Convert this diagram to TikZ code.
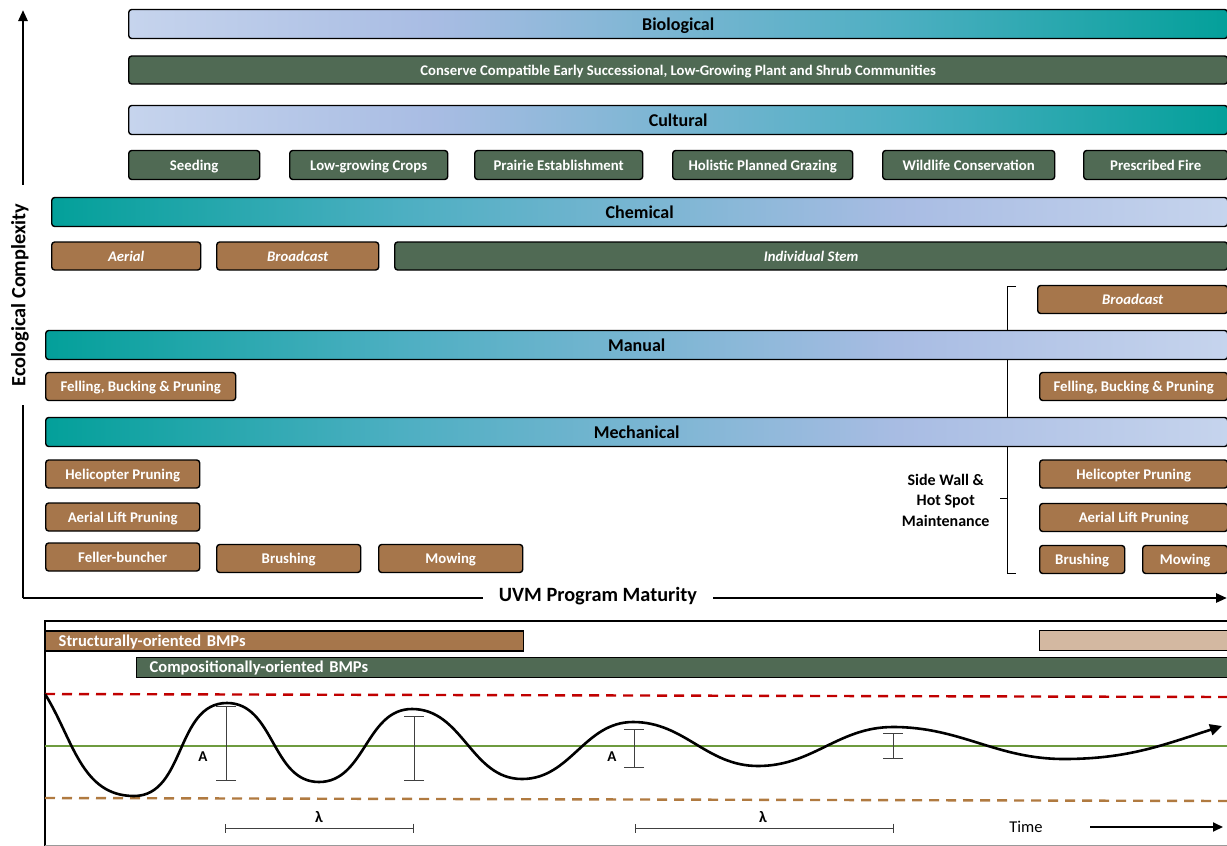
\documentclass[tikz,border=0pt]{standalone}
\usepackage{fontspec}
\setmainfont{Carlito}
\usetikzlibrary{arrows.meta}

\definecolor{sagegreen}{HTML}{506A54}
\definecolor{barkbrown}{HTML}{A6764B}
\definecolor{paletan}{HTML}{D3B8A1}
\definecolor{lavlight}{HTML}{C6D4ED}
\definecolor{lavmid}{HTML}{A8BCE3}
\definecolor{tealmid}{HTML}{4DAFC2}
\definecolor{tealdark}{HTML}{03A09A}
\definecolor{limitred}{HTML}{C00000}
\definecolor{limitbrown}{HTML}{B07A40}
\definecolor{meangreen}{HTML}{6E9B3F}

\pgfdeclarehorizontalshading{lighttoteal}{100bp}{color(0bp)=(lavlight); color(25bp)=(lavlight);
  color(39bp)=(lavmid); color(60bp)=(tealmid); color(75bp)=(tealdark); color(100bp)=(tealdark)}
\pgfdeclarehorizontalshading{tealtolight}{100bp}{color(0bp)=(tealdark); color(25bp)=(tealdark);
  color(40bp)=(tealmid); color(61bp)=(lavmid); color(75bp)=(lavlight); color(100bp)=(lavlight)}

\tikzset{
  itembox/.style={draw=black, line width=1.4pt, rounded corners=3pt, anchor=west, inner sep=0pt,
    minimum height=28pt, text height=10pt, text depth=0pt, text=white,
    font=\fontsize{14.8}{17}\selectfont\bfseries},
  greenbox/.style={itembox, fill=sagegreen},
  brownbox/.style={itembox, fill=barkbrown},
  slantbox/.style={font=\fontsize{14.7}{17}\selectfont\bfseries\itshape},
  tierbar/.style={draw=black, line width=1.4pt, rounded corners=3pt, anchor=west, inner sep=0pt,
    minimum height=29pt, text height=12pt, text depth=0pt, font=\fontsize{18}{21}\selectfont\bfseries},
  bmpbar/.style={draw=black, line width=1.4pt, anchor=west, inner xsep=13pt, inner ysep=0pt,
    minimum height=20pt, text height=10pt, text depth=0pt, align=left, text=white,
    font=\fontsize{16.5}{18}\selectfont\bfseries},
  axis/.style={line width=2.6pt, -{Triangle[length=11pt, width=9pt]}},
  axislabel/.style={fill=white, font=\fontsize{20.3}{23}\selectfont\bfseries},
  ibeam/.style={black!75, line width=0.9pt},
  limit/.style={line width=2.4pt, dash pattern=on 10pt off 7pt}
}

\begin{document}
\begin{tikzpicture}[x=1pt, y=-1pt]
  \useasboundingbox (0,0) rectangle (1227,846);

  % axes
  \coordinate (origin) at (23,598);
  \coordinate (ytop) at (23,10);
  \coordinate (xend) at (1227,598);
  \draw[axis] (origin) -- (ytop);
  \draw[axis] (origin) -- (xend);
  \node[axislabel, rotate=90, inner xsep=19pt] (ecolab) at (20,295) {Ecological Complexity};
  \node[axislabel, inner xsep=16pt] (uvmlab) at (598,596) {UVM Program Maturity};

  % side wall bracket
  \coordinate (brtop) at (1007,286);
  \coordinate (brbot) at (1007,573);
  \coordinate (brmid) at (1007,498);
  \draw[line width=1pt] ([xshift=9pt]brtop) -- (brtop) -- (brbot) -- ([xshift=9pt]brbot);
  \node[font=\fontsize{16}{20.5}\selectfont\bfseries, align=center, anchor=east] (sidewall)
    at (993,500) {Side Wall \&\\ Hot Spot\\ Maintenance};
  \draw[line width=1pt] ([xshift=-7pt]brmid) -- (brmid);

  % biological & cultural
  \node[tierbar, shading=lighttoteal, minimum width=1099pt] (bio) at (128,24) {Biological};
  \node[greenbox, minimum width=1099pt, font=\fontsize{14.7}{17}\selectfont\bfseries] (conserve)
    at (128,70) {Conserve Compatible Early Successional, Low-Growing Plant and Shrub Communities};
  \node[tierbar, shading=lighttoteal, minimum width=1099pt] (cult) at (128,120) {Cultural};
  \foreach \n/\x/\w/\t in {seed/128/131/Seeding, crops/289/158/Low-growing Crops,
      prairie/474/168/Prairie Establishment, grazing/672/180/Holistic Planned Grazing,
      wildlife/882/172/Wildlife Conservation, fire/1083/144/Prescribed Fire}
    \node[greenbox, minimum width=\w pt, minimum height=29pt] (\n) at (\x,165) {\t};

  % chemical
  \node[tierbar, shading=tealtolight, minimum width=1176pt] (chem) at (51,212) {Chemical};
  \node[brownbox, slantbox, minimum width=149pt] (aerial) at (51,256) {Aerial};
  \node[brownbox, slantbox, minimum width=162pt] (bcast) at (216,256) {Broadcast};
  \node[greenbox, slantbox, minimum width=833pt] (stem) at (394,256) {Individual Stem};
  \node[brownbox, slantbox, minimum width=190pt] (bcastr) at (1037,299.5) {Broadcast};

  % manual
  \node[tierbar, shading=tealtolight, minimum width=1182pt] (manual) at (45,345) {Manual};
  \node[brownbox, minimum width=190pt] (fell) at (45,386.5) {Felling, Bucking \& Pruning};
  \node[brownbox, minimum width=188pt] (fellr) at (1039,386.5) {Felling, Bucking \& Pruning};

  % mechanical
  \node[tierbar, shading=tealtolight, minimum width=1182pt] (mech) at (45,432) {Mechanical};
  \foreach \n/\x/\y/\w/\t in {heli/45/474/154/Helicopter Pruning, lift/45/517/154/Aerial Lift Pruning,
      feller/45/557/154/Feller-buncher, brush/216/558.5/144/Brushing, mow/378/558.5/144/Mowing,
      helir/1039/474/188/Helicopter Pruning, liftr/1039/517.5/188/Aerial Lift Pruning,
      brushr/1039/559.5/85/Brushing, mowr/1142/559.5/85/Mowing}
    \node[brownbox, minimum width=\w pt] (\n) at (\x,\y) {\t};

  % BMP panel
  \draw[line width=1.5pt] (1227,621) -| (45,846);
  \draw[black!40, line width=1pt] (45,845) -- (1227,845);
  \node[bmpbar, fill=barkbrown, text width=452pt] (struct) at (45,641) {Structurally-oriented BMPs};
  \node[bmpbar, fill=paletan, minimum width=188pt, inner xsep=0pt] (tan) at (1039,640.5) {};
  \node[bmpbar, fill=sagegreen, text width=1065pt] (comp) at (136,667.5) {Compositionally-oriented BMPs};

  % thresholds
  \draw[limit, limitred] (45,694) -- (1227,697);
  \draw[limitbrown, limit] (45,798) -- (1227,801);
  \draw[meangreen, line width=2.2pt] (45,746) -- (1227,746);

  % damped wave
  \coordinate (w0) at (45,694);
  \coordinate (w1) at (134,796);
  \coordinate (w2) at (227,703);
  \coordinate (w3) at (319,782);
  \coordinate (w4) at (412,709);
  \coordinate (w5) at (522,779);
  \coordinate (w6) at (633,722);
  \coordinate (w7) at (758,766);
  \coordinate (w8) at (893,727);
  \coordinate (w9) at (1064,759);
  \coordinate (w10) at (1222,726);
  \draw[line width=2.6pt, -{Triangle[length=12pt, width=11pt]}] (w0) to[out=-58, in=180] (w1)
    to[out=0, in=180] (w2) to[out=0, in=180] (w3) to[out=0, in=180] (w4)
    to[out=0, in=180] (w5) to[out=0, in=180] (w6) to[out=0, in=180] (w7)
    to[out=0, in=180] (w8) to[out=0, in=180] (w9) to[out=0, in=-162] (w10);

  % amplitude and wavelength markers
  \foreach \x/\a/\b in {226/706/781, 414/716/781, 634/729/768, 893/733/759}
    \draw[ibeam, {Bar[width=20pt]}-{Bar[width=20pt]}] (\x,\a) -- (\x,\b);
  \node[font=\fontsize{15}{17}\selectfont\bfseries] (amp1) at (203,757) {A};
  \node[font=\fontsize{15}{17}\selectfont\bfseries] (amp2) at (612,757) {A};
  \draw[ibeam, {Bar[width=9pt]}-{Bar[width=9pt]}] (225,828) -- (414,828);
  \draw[ibeam, {Bar[width=9pt]}-{Bar[width=9pt]}] (635,828) -- (894,828);
  \node[font=\fontsize{16}{17}\selectfont\bfseries] (lam1) at (319,817) {λ};
  \node[font=\fontsize{16}{17}\selectfont\bfseries] (lam2) at (763,817) {λ};
  \node[font=\fontsize{16.5}{18}\selectfont] (time) at (1026,827) {Time};
  \coordinate (tend) at (1223,827);
  \draw[line width=1.8pt, -{Triangle[length=10pt, width=9pt]}] (1090,827) -- (tend);
\end{tikzpicture}
\end{document}
